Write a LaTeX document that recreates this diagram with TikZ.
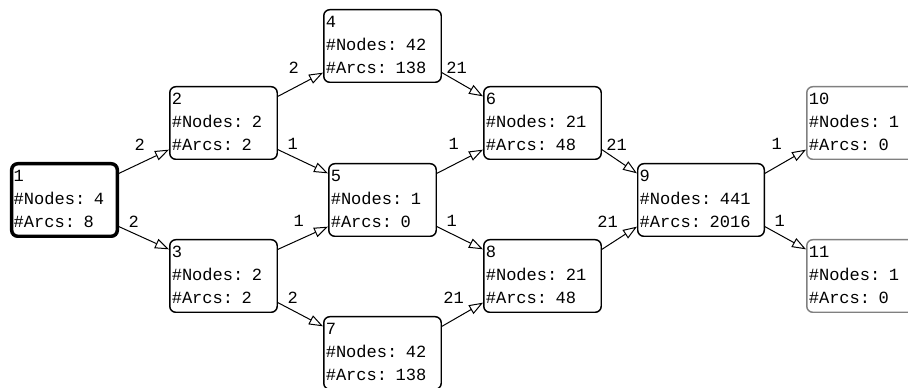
\documentclass[tikz,border=0pt]{standalone}
\usepackage{fontspec}
\newfontfamily\recmono{Liberation Mono}
\usetikzlibrary{arrows.meta}

\begin{document}
\begin{tikzpicture}[x=0.75pt,y=-0.75pt,
  rec/.style={draw,rounded corners=4.5pt,line width=1.1pt,align=left,text width=#1,
    inner xsep=1.5pt,inner ysep=1.7pt,minimum height=54.4pt,
    font=\recmono\fontsize{12.8}{17}\selectfont},
  rec/.default=77.6pt,
  edge/.style={-{Triangle[open,length=10.5pt,width=7.5pt]},line width=0.75pt,black},
  lab/.style={font=\recmono\fontsize{12.8}{17}\selectfont,inner sep=0pt},
  tl/.style={lab,pos=0,xshift=11pt,yshift=4pt},
  hl/.style={lab,pos=1,xshift=-22pt,yshift=4pt}]
\clip (0,0) rectangle (908,388);
\node[rec=76.2pt,line width=2.6pt] (n1) at (64.5,200) {\strut 1\\\#Nodes: 4\\\#Arcs: 8\strut};
\node[rec] (n2) at (223.5,123) {\strut 2\\\#Nodes: 2\\\#Arcs: 2\strut};
\node[rec] (n3) at (223.5,276) {\strut 3\\\#Nodes: 2\\\#Arcs: 2\strut};
\node[rec=85.1pt] (n4) at (382.5,46) {\strut 4\\\#Nodes: 42\\\#Arcs: 138\strut};
\node[rec] (n5) at (382.5,200) {\strut 5\\\#Nodes: 1\\\#Arcs: 0\strut};
\node[rec=85.1pt] (n7) at (382.5,353) {\strut 7\\\#Nodes: 42\\\#Arcs: 138\strut};
\node[rec=85.1pt] (n6) at (542.5,123) {\strut 6\\\#Nodes: 21\\\#Arcs: 48\strut};
\node[rec=85.1pt] (n8) at (542.5,276) {\strut 8\\\#Nodes: 21\\\#Arcs: 48\strut};
\node[rec=91.9pt] (n9) at (701,200) {\strut 9\\\#Nodes: 441\\\#Arcs: 2016\strut};
\node[rec,draw=black!50] (n10) at (860.5,123) {\strut 10\\\#Nodes: 1\\\#Arcs: 0\strut};
\node[rec,draw=black!50] (n11) at (860.5,276) {\strut 11\\\#Nodes: 1\\\#Arcs: 0\strut};

\draw[edge] ([yshift=20pt]n1.east) -- ([yshift=-20pt]n2.west) node[hl] (l12) {2};
\draw[edge] ([yshift=-20pt]n1.east) -- ([yshift=20pt]n3.west) node[tl] (l13) {2};
\draw[edge] ([yshift=20pt]n2.east) -- ([yshift=-20pt]n4.west) node[hl] (l24) {2};
\draw[edge] ([yshift=-20pt]n2.east) -- ([yshift=20pt]n5.west) node[tl] (l25) {1};
\draw[edge] ([yshift=20pt]n3.east) -- ([yshift=-20pt]n5.west) node[hl] (l35) {1};
\draw[edge] ([yshift=-20pt]n3.east) -- ([yshift=20pt]n7.west) node[tl] (l37) {2};
\draw[edge] ([yshift=-20pt]n4.east) -- ([yshift=20pt]n6.west) node[tl] (l46) {21};
\draw[edge] ([yshift=20pt]n5.east) -- ([yshift=-20pt]n6.west) node[hl] (l56) {1};
\draw[edge] ([yshift=-20pt]n5.east) -- ([yshift=20pt]n8.west) node[tl] (l58) {1};
\draw[edge] ([yshift=20pt]n7.east) -- ([yshift=-20pt]n8.west) node[hl] (l78) {21};
\draw[edge] ([yshift=-20pt]n6.east) -- ([yshift=20pt]n9.west) node[tl] (l69) {21};
\draw[edge] ([yshift=20pt]n8.east) -- ([yshift=-20pt]n9.west) node[hl] (l89) {21};
\draw[edge] ([yshift=20pt]n9.east) -- ([yshift=-20pt]n10.west) node[hl] (l910) {1};
\draw[edge] ([yshift=-20pt]n9.east) -- ([yshift=20pt]n11.west) node[tl] (l911) {1};
\end{tikzpicture}
\end{document}
